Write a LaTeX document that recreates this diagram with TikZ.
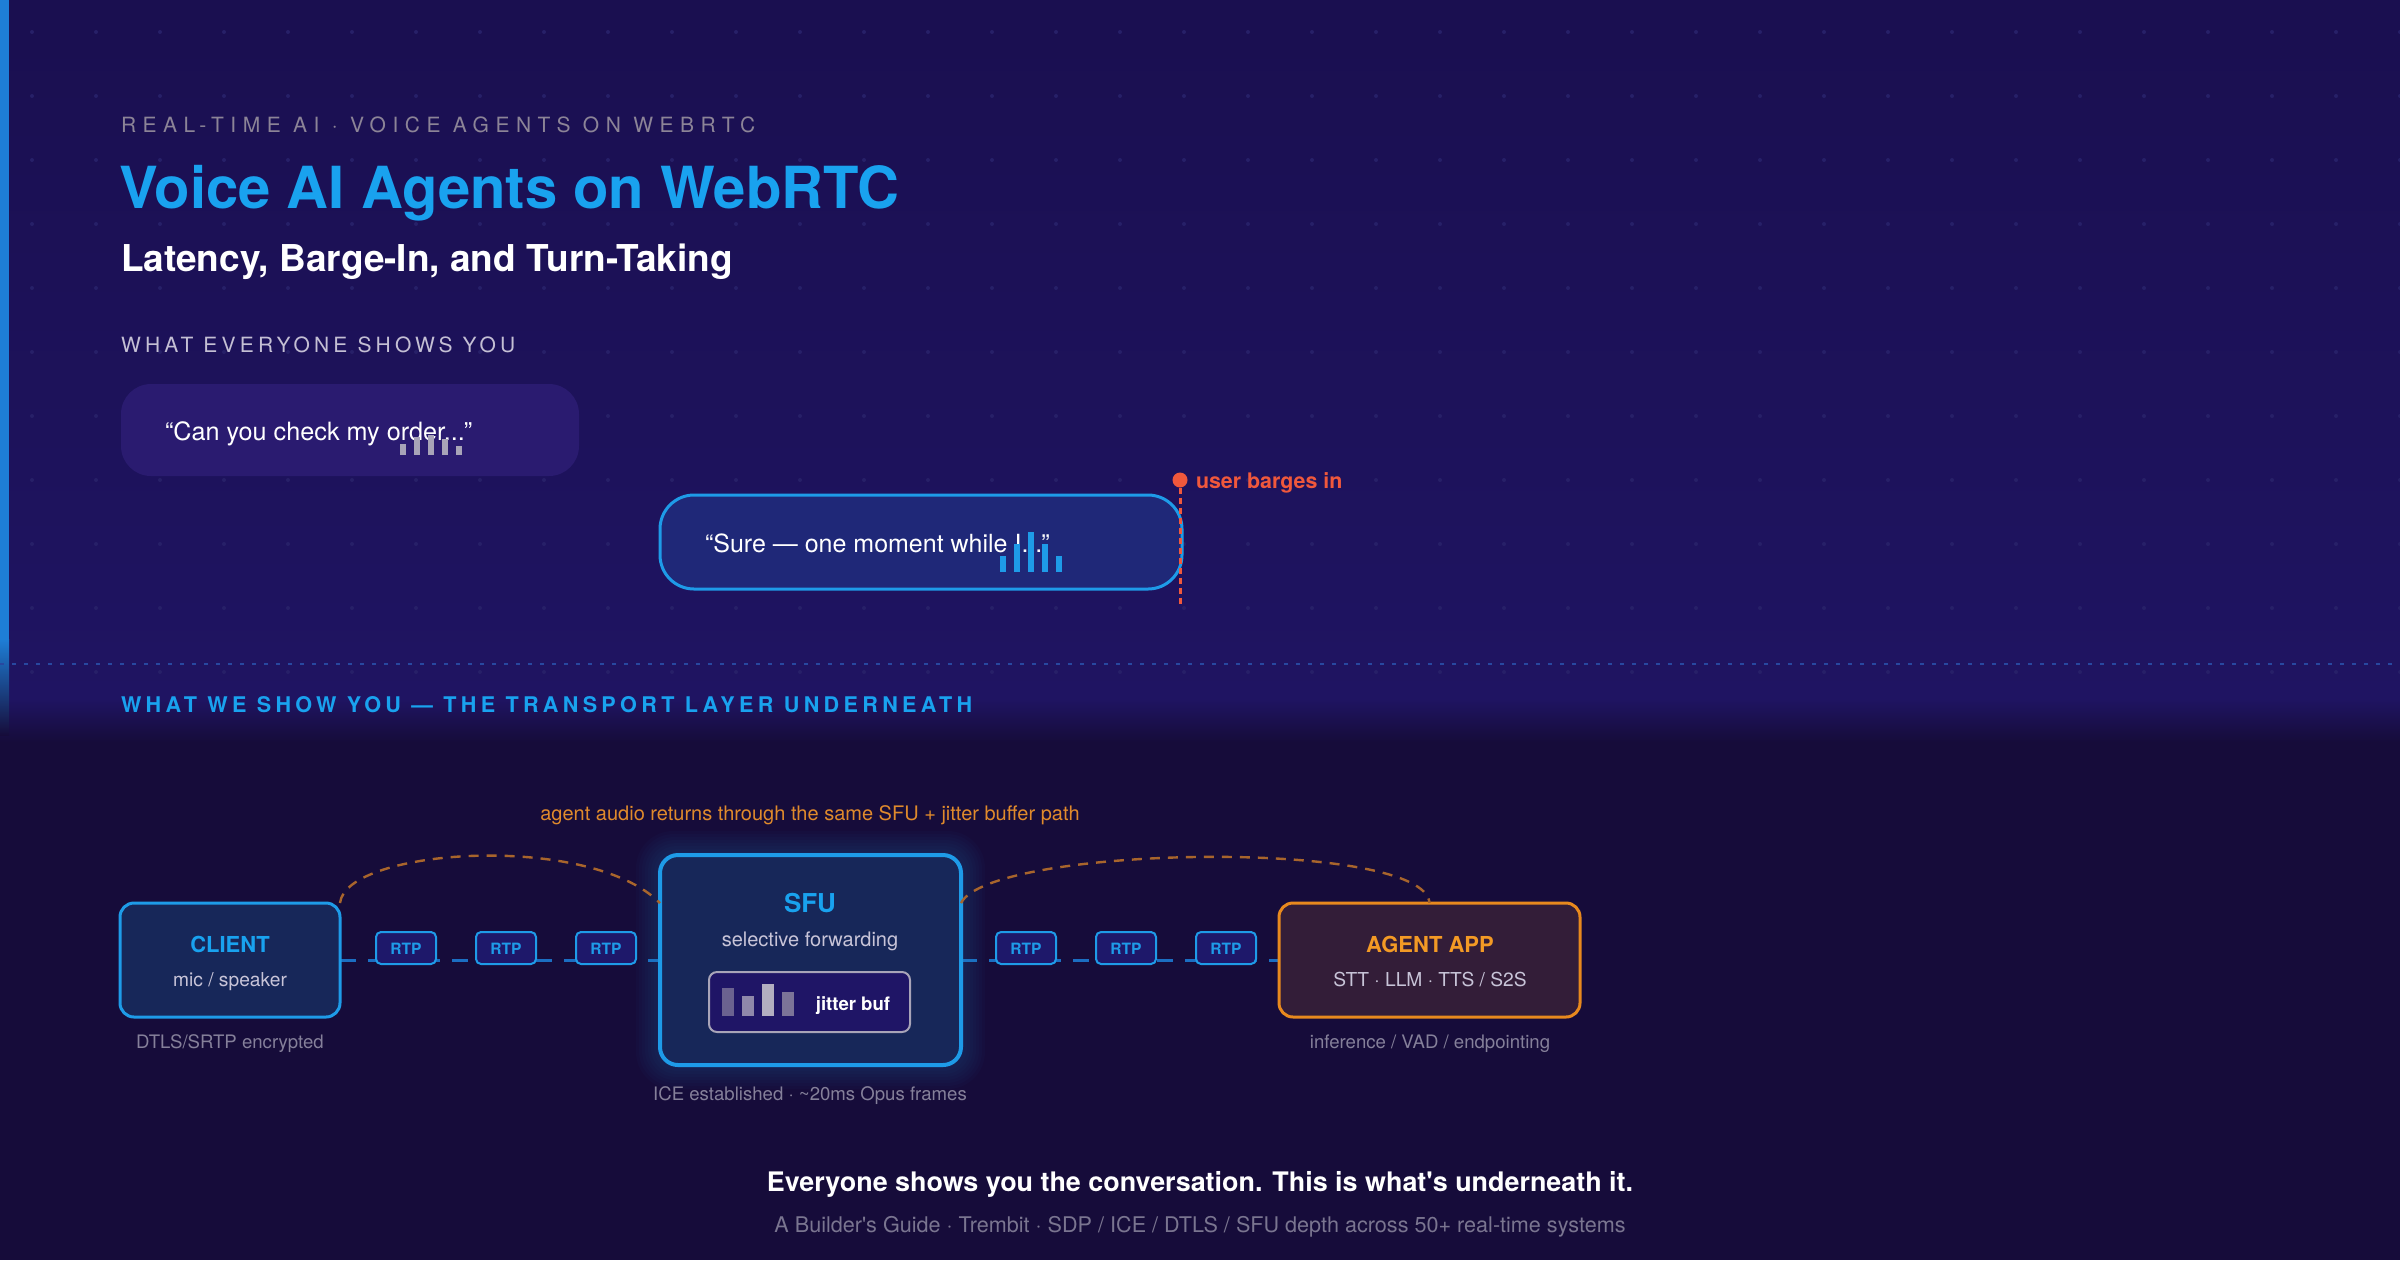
\documentclass[tikz,border=0pt]{standalone}
\usepackage{fontspec}
\setmainfont{TeX Gyre Heros}
\newfontfamily\spaced[LetterSpace=20]{TeX Gyre Heros}
\newfontfamily\spacedwide[LetterSpace=31]{TeX Gyre Heros}
\usetikzlibrary{calc}
\pgfdeclarelayer{back}
\pgfdeclarelayer{bg}
\pgfsetlayers{back,bg,main}
\definecolor{bgtop}{HTML}{1A0F50}
\definecolor{bgmid}{HTML}{1F1462}
\definecolor{bglow}{HTML}{160C3A}
\definecolor{stripe}{HTML}{1E7ED6}
\definecolor{dotc}{HTML}{272068}
\definecolor{divc}{HTML}{2848A0}
\definecolor{labgray}{HTML}{8C8497}
\definecolor{labgray2}{HTML}{C4BFD4}
\definecolor{skyb}{HTML}{19A2EF}
\definecolor{edgeb}{HTML}{1E9BE8}
\definecolor{linkb}{HTML}{1B6EC2}
\definecolor{bub1}{HTML}{2A1B70}
\definecolor{bub2}{HTML}{1F2878}
\definecolor{barg}{HTML}{A8A4B8}
\definecolor{redc}{HTML}{F0583C}
\definecolor{boxf}{HTML}{172759}
\definecolor{agentf}{HTML}{331D38}
\definecolor{agente}{HTML}{E8891E}
\definecolor{agentt}{HTML}{F39A25}
\definecolor{subt}{HTML}{C8C4D8}
\definecolor{capt}{HTML}{85809A}
\definecolor{orn}{HTML}{E08A2C}
\definecolor{arcc}{HTML}{A8652C}
\definecolor{rtpf}{HTML}{1E186A}
\definecolor{jitf}{HTML}{1F1566}
\definecolor{jb1}{HTML}{6B6290}
\definecolor{jb2}{HTML}{8F88AA}
\definecolor{jb3}{HTML}{B2AEC0}
\definecolor{jb4}{HTML}{7C7498}
\definecolor{foot}{HTML}{7A7590}
\begin{document}
\begin{tikzpicture}[x=0.5pt,y=-0.5pt,
  every node/.style={inner sep=0pt, outer sep=0pt},
  box/.style={draw=edgeb, fill=boxf, line width=1.5pt, rounded corners=7pt},
  rtp/.style={draw=edgeb, fill=rtpf, line width=1pt, rounded corners=2.5pt,
     minimum width=30pt, minimum height=16pt},
  rtptext/.style={anchor=base, text=edgeb, font=\fontsize{7.8pt}{9pt}\selectfont\bfseries},
  link/.style={draw=linkb, line width=1.5pt, dash pattern=on 8pt off 6pt},
  retarc/.style={draw=arcc, line width=1.2pt, dash pattern=on 5pt off 4pt},
  titlet/.style={anchor=base, font=\fontsize{11pt}{13pt}\selectfont\bfseries},
  subtxt/.style={anchor=base, text=subt, font=\fontsize{9.6pt}{11pt}\selectfont},
  captxt/.style={anchor=base, text=capt, font=\fontsize{9.3pt}{11pt}\selectfont},
  labeltxt/.style={anchor=base west, font=\spaced\fontsize{10.5pt}{12pt}\selectfont}
]
\useasboundingbox (0,0) rectangle (2400,1260);
\begin{pgfonlayer}{back}
  \fill[bglow] (0,0) rectangle (2400,1260);
  \shade[top color=bgtop, bottom color=bgmid] (0,0) rectangle (2400,700);
  \shade[top color=bgmid, bottom color=bglow] (0,699) rectangle (2400,742);
  \foreach \i in {0,...,37}{
    \foreach \j in {0,...,10}{
      \fill[dotc] (32+64*\i,32+64*\j) circle (1pt);
    }
  }
  \fill[stripe] (0,0) rectangle (9,640);
  \shade[top color=stripe, bottom color=bglow] (0,639) rectangle (9,735);
  \draw[divc, line width=1pt, dash pattern=on 2pt off 4pt] (0,664) -- (2400,664);
\end{pgfonlayer}

% ---------- header ----------
\node[labeltxt, text=labgray, font=\spacedwide\fontsize{10.5pt}{12pt}\selectfont] (kicker) at (121,132) {REAL-TIME AI · VOICE AGENTS ON WEBRTC};
\node[anchor=base west, text=skyb, font=\fontsize{29pt}{34pt}\selectfont\bfseries] (title) at (119,208) {Voice AI Agents on WebRTC};
\node[anchor=base west, text=white, font=\fontsize{18.5pt}{21pt}\selectfont\bfseries] (subtitle) at (121,271) {Latency, Barge-In, and Turn-Taking};
\node[labeltxt, text=labgray2] (sec1) at (121,352) {WHAT EVERYONE SHOWS YOU};

% ---------- bubbles ----------
\node[fill=bub1, rounded corners=15pt, minimum width=229pt, minimum height=46pt] (bubA) at (350,430) {};
\node[anchor=base west, text=white, font=\fontsize{12.6pt}{14pt}\selectfont] (bubAtext) at (165,440) {“Can you check my order...”};
\foreach \x/\h in {403/11, 417/18, 431/20, 445/16, 459/9}{
  \fill[barg] (\x-3,455) rectangle (\x+3,455-\h);
}
\node[draw=edgeb, line width=1.5pt, fill=bub2, rounded corners=17pt, minimum width=261pt, minimum height=47pt] (bubB) at (921,542) {};
\node[anchor=base west, text=white, font=\fontsize{12.5pt}{14pt}\selectfont] (bubBtext) at (705,552) {“Sure — one moment while I...”};
\foreach \x/\h in {1003/16, 1017/28, 1031/40, 1045/28, 1059/16}{
  \fill[edgeb] (\x-3,572) rectangle (\x+3,572-\h);
}
\node[circle, fill=redc, minimum size=7.5pt] (bdot) at (1180,480) {};
\coordinate (bend) at (1180,604);
\draw[redc, line width=1.5pt, dash pattern=on 3pt off 2pt] (bdot.south) -- (bend);
\node[anchor=base west, text=redc, font=\fontsize{10.7pt}{12pt}\selectfont\bfseries] (barge) at (1196,488) {user barges in};

% ---------- section 2 ----------
\node[labeltxt, text=skyb, font=\spaced\fontsize{10.8pt}{13pt}\selectfont\bfseries] (sec2) at (121,712) {WHAT WE SHOW YOU — THE TRANSPORT LAYER UNDERNEATH};

\node[anchor=base, text=orn, font=\fontsize{10pt}{12pt}\selectfont] (note) at (810,820) {agent audio returns through the same SFU + jitter buffer path};

% client
\node[box, minimum width=110pt, minimum height=57pt] (client) at (230,960) {};
\node[titlet, text=skyb] (clientT) at (230,952) {CLIENT};
\node[subtxt] (clientS) at (230,986) {mic / speaker};
\node[captxt] (clientC) at (230,1048) {DTLS/SRTP encrypted};

% SFU glow
\foreach \k in {1,...,8}{
  \fill[edgeb, opacity=0.025, rounded corners=9pt+\k*1.2pt] (660-3*\k,855-3*\k) rectangle (961+3*\k,1065+3*\k);
}
\node[box, line width=2pt, rounded corners=9pt, minimum width=150.5pt, minimum height=105pt] (sfu) at (810.5,960) {};
\node[anchor=base, text=skyb, font=\fontsize{13pt}{15pt}\selectfont\bfseries] (sfuT) at (810,912) {SFU};
\node[subtxt, font=\fontsize{10pt}{12pt}\selectfont] (sfuS) at (810,946) {selective forwarding};
\node[draw=barg, fill=jitf, line width=1pt, rounded corners=4pt, minimum width=100.5pt, minimum height=30pt] (jit) at (809.5,1002) {};
\fill[jb1] (722,1016) rectangle (734,988);
\fill[jb2] (742,1016) rectangle (754,996);
\fill[jb3] (762,1016) rectangle (774,984);
\fill[jb4] (782,1016) rectangle (794,992);
\node[anchor=base, text=white, font=\fontsize{9.3pt}{11pt}\selectfont\bfseries] (jitT) at (853,1010) {jitter buf};
\node[captxt] (sfuC) at (810,1100) {ICE established · \textasciitilde20ms Opus frames};

% agent
\node[box, draw=agente, fill=agentf, minimum width=150.5pt, minimum height=57pt] (agent) at (1429.5,960) {};
\node[titlet, text=agentt] (agentT) at (1430,952) {AGENT APP};
\node[subtxt] (agentS) at (1430,986) {STT · LLM · TTS / S2S};
\node[captxt] (agentC) at (1430,1048) {inference / VAD / endpointing};

% RTP packets
\foreach \n/\x in {r1/406, r2/506, r3/606, r4/1026, r5/1126, r6/1226}{
  \node[rtp] (\n) at (\x,948) {};
  \node[rtptext] (\n t) at (\x,954) {RTP};
}

\begin{pgfonlayer}{bg}
  \draw[link] (client.east) -- (sfu.west);
  \draw[link] (sfu.east) -- (agent.west);
\end{pgfonlayer}

\coordinate (sfuL) at ($(sfu.north west)!0.229!(sfu.south west)$);
\coordinate (sfuR) at ($(sfu.north east)!0.229!(sfu.south east)$);
\draw[retarc] (client.north east) .. controls (346,848) and (590,832) .. (sfuL);
\draw[retarc] (sfuR) .. controls (990,845) and (1425,838) .. (agent.north);

% footer
\node[anchor=base, text=white, font=\fontsize{13.45pt}{16pt}\selectfont\bfseries] (tag) at (1200,1191) {Everyone shows you the conversation. This is what\textquotesingle s underneath it.};
\node[anchor=base, text=foot, font=\fontsize{10.8pt}{13pt}\selectfont] (footer) at (1200,1232) {A Builder\textquotesingle s Guide · Trembit · SDP / ICE / DTLS / SFU depth across 50+ real-time systems};
\end{tikzpicture}
\end{document}
